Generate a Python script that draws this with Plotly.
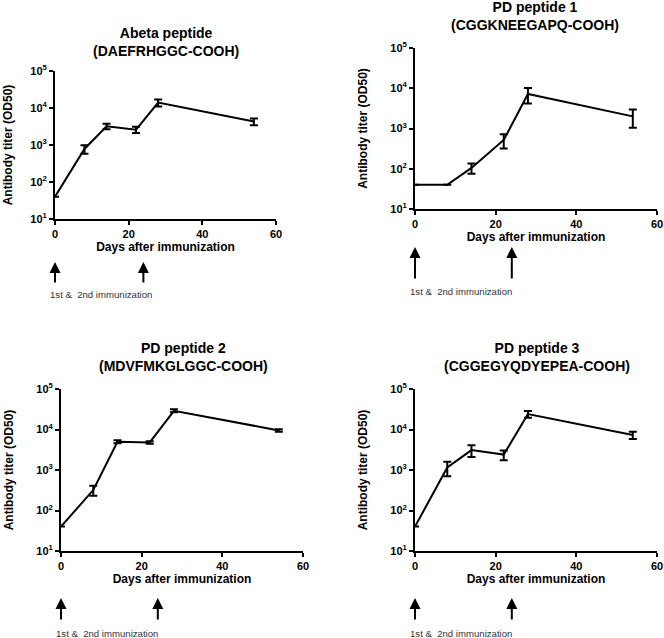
import plotly.graph_objects as go
from plotly.subplots import make_subplots

days = [0, 8, 14, 22, 28, 54]

titulos = [
    "Abeta peptide<br>(DAEFRHGGC-COOH)",
    "PD peptide 1<br>(CGGKNEEGAPQ-COOH)",
    "PD peptide 2<br>(MDVFMKGLGGC-COOH)",
    "PD peptide 3<br>(CGGEGYQDYEPEA-COOH)",
]

abeta = [40, 780, 3200, 2600, 14000, 4300]
abeta_err = [None, 200, 550, 500, 3000, 900]
pd1 = [40, 40, 105, 520, 7200, 2000]
pd1_err = [None, None, 30, 200, 3000, 950]
pd2 = [40, 320, 5000, 4800, 29000, 9500]
pd2_err = [None, 90, 400, 350, 2500, 700]
pd3 = [40, 1150, 3100, 2400, 24000, 7300]
pd3_err = [None, 450, 1000, 650, 4500, 1500]

immunization_days = [0, 24]

y_tickvals = [10, 100, 1000, 10000, 100000]
y_ticktext = ["10<sup>1</sup>", "10<sup>2</sup>", "10<sup>3</sup>", "10<sup>4</sup>", "10<sup>5</sup>"]

series = [(abeta, abeta_err), (pd1, pd1_err), (pd2, pd2_err), (pd3, pd3_err)]

FONT = "Liberation Sans, Arial, sans-serif"
W, H = 664, 638

# posiciones de cada panel en pixeles: (x0, x1, y_top, y_bottom)
paneles = [
    (55, 276, 71, 219),
    (415, 657, 48, 209),
    (61, 303, 389, 551),
    (415, 657, 389, 551),
]
# separacion del titulo del eje y en cada panel
y_standoff = [15, 20, 20, 20]
# centro del titulo (x, y) y posicion de las flechas (punta, cola, texto)
titulo_pos = [(166, 42), (535, 16), (183, 357), (537, 357)]
flechas = [(262, 284, 294), (247, 280, 292), (598, 621, 633), (598, 621, 633)]

fig = make_subplots(rows=2, cols=2)

for i, ((vals, errs), (x0, x1, yt, yb)) in enumerate(zip(series, paneles)):
    row, col = i // 2 + 1, i % 2 + 1
    fig.add_trace(go.Scatter(
        x=days, y=vals, mode="lines",
        line=dict(color="black", width=2),
        error_y=dict(type="data", array=errs, visible=True,
                     color="black", thickness=2, width=4),
        showlegend=False, hoverinfo="skip",
    ), row=row, col=col)

    fig.update_xaxes(
        domain=[x0 / W, x1 / W], range=[0, 60], tickvals=[0, 20, 40, 60],
        showline=True, linecolor="black", linewidth=2,
        ticks="outside", ticklen=4, tickwidth=2, tickcolor="black",
        showgrid=False, zeroline=False, automargin=False,
        tickfont=dict(family=FONT, size=11, color="black", weight="bold"),
        title=dict(text="<b>Days after immunization</b>", standoff=2,
                   font=dict(family=FONT, size=12, color="black")),
        row=row, col=col,
    )
    fig.update_yaxes(
        domain=[1 - yb / H, 1 - yt / H], type="log", range=[1, 5],
        tickvals=y_tickvals, ticktext=y_ticktext,
        showline=True, linecolor="black", linewidth=2,
        ticks="outside", ticklen=4, tickwidth=2, tickcolor="black",
        showgrid=False, zeroline=False, automargin=False,
        tickfont=dict(family=FONT, size=11, color="black", weight="bold"),
        title=dict(text="<b>Antibody titer (OD50)</b>", standoff=y_standoff[i],
                   font=dict(family=FONT, size=12, color="black")),
        row=row, col=col,
    )

    # titulo del panel
    tx, ty = titulo_pos[i]
    fig.add_annotation(
        x=tx / W, y=1 - ty / H, xref="paper", yref="paper",
        text="<b>" + titulos[i].replace("<br>", "</b><br><b>") + "</b>",
        showarrow=False, xanchor="center", yanchor="middle",
        font=dict(family=FONT, size=14, color="black"),
    )

    # flechas de inmunizacion
    tip, tail, txt_y = flechas[i]
    xref = "x" if i == 0 else f"x{i + 1}"
    for d in immunization_days:
        fig.add_annotation(
            x=d, y=1 - tip / H, xref=xref, yref="paper",
            ax=0, ay=tail - tip, text="", showarrow=True,
            arrowhead=2, arrowsize=1.1, arrowwidth=2, arrowcolor="black",
        )
    fig.add_annotation(
        x=0, xshift=-7, y=1 - txt_y / H, xref=xref, yref="paper",
        text="1st &\u00a0 2nd immunization", showarrow=False,
        xanchor="left", yanchor="middle",
        font=dict(family=FONT, size=9.6, color="#333333"),
    )

fig.update_layout(
    width=W, height=H,
    margin=dict(l=0, r=0, t=0, b=0),
    plot_bgcolor="white", paper_bgcolor="white",
    font=dict(family=FONT, color="black"),
    hovermode=False,
)

# quitar el margen por defecto del body para que la figura quede en (0, 0)
fig.write_html("out.html", config={"displayModeBar": False},
               post_script="document.body.style.margin='0px';")
